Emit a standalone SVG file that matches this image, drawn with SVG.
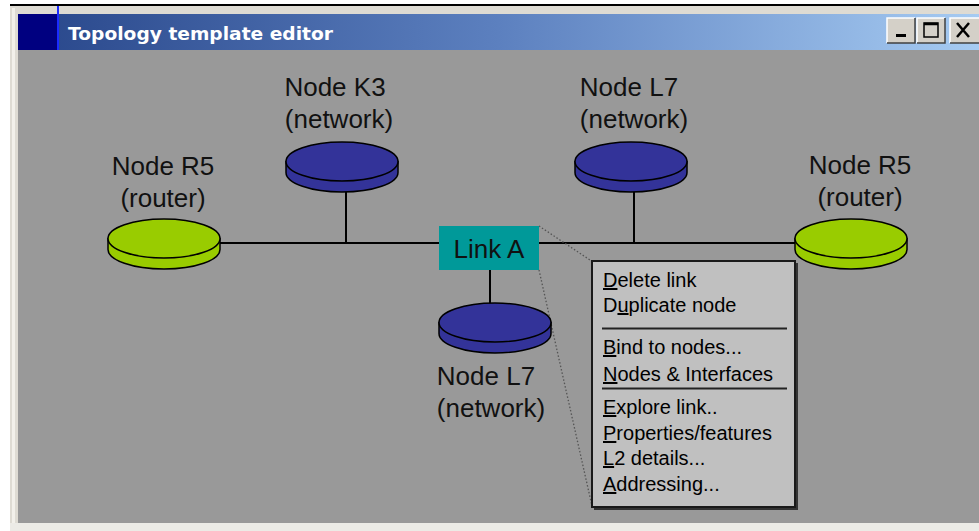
<svg xmlns="http://www.w3.org/2000/svg" width="979" height="531" viewBox="0 0 979 531">
<defs>
<linearGradient id="tb" x1="0" y1="0" x2="1" y2="0">
<stop offset="0" stop-color="#28468a"/>
<stop offset="0.5" stop-color="#5c80bf"/>
<stop offset="1" stop-color="#a6cbf2"/>
</linearGradient>
<g id="disc">
<path d="M-56,0 L-56,11 A56,19.5 0 0 0 56,11 L56,0 Z" stroke="#000" stroke-width="1.5"/>
<ellipse cx="0" cy="0" rx="56" ry="19.5" stroke="#000" stroke-width="1.5"/>
</g>
</defs>
<style>
.lbl{font-family:"Liberation Sans",Arial,sans-serif;font-size:26px;fill:#111;text-anchor:middle}
.menu{font-family:"Liberation Sans",Arial,sans-serif;font-size:20px;fill:#000}
.ln{stroke:#000;stroke-width:2;fill:none}
.dot{stroke:#555;stroke-width:1.3;stroke-dasharray:1.5 2;fill:none}
.btn{fill:#d4d0c8;stroke:#fff;stroke-width:1}
</style>
<rect width="979" height="531" fill="#ffffff"/>
<!-- window frame -->
<rect x="10" y="6" width="969" height="525" fill="#dedbd3"/>
<rect x="12" y="8" width="3" height="523" fill="#f2f0ea"/>
<line x1="10" y1="5" x2="979" y2="5" stroke="#000" stroke-width="2"/>
<!-- title bar -->
<rect x="18" y="14" width="961" height="36" fill="url(#tb)"/>
<rect x="18" y="14" width="40" height="36" fill="#000080"/>
<line x1="58" y1="6" x2="58" y2="50" stroke="#1a2cff" stroke-width="2"/>
<text x="68" y="40" font-family="DejaVu Sans,Verdana,sans-serif" font-weight="bold" font-size="18" fill="#fff" textLength="265" lengthAdjust="spacingAndGlyphs">Topology template editor</text>
<!-- buttons -->
<g id="btn-min">
<rect x="887" y="18" width="28" height="25" fill="#d4d0c8"/>
<path d="M887,43 V18 H915" stroke="#fff" stroke-width="1.5" fill="none"/>
<path d="M887,43 H915 V18" stroke="#404040" stroke-width="1.5" fill="none"/>
<rect x="896" y="34" width="10" height="3" fill="#000"/>
</g>
<g id="btn-max">
<rect x="917" y="18" width="28" height="25" fill="#d4d0c8"/>
<path d="M917,43 V18 H945" stroke="#fff" stroke-width="1.5" fill="none"/>
<path d="M917,43 H945 V18" stroke="#404040" stroke-width="1.5" fill="none"/>
<rect x="924" y="23" width="14" height="14" fill="none" stroke="#000" stroke-width="1.5"/>
<line x1="924" y1="24" x2="938" y2="24" stroke="#000" stroke-width="2.5"/>
</g>
<g id="btn-close">
<rect x="950" y="18" width="29" height="25" fill="#d4d0c8"/>
<path d="M950,43 V18 H979" stroke="#fff" stroke-width="1.5" fill="none"/>
<path d="M950,43 H979" stroke="#404040" stroke-width="1.5" fill="none"/>
<path d="M957,23 L969,37 M969,23 L957,37" stroke="#000" stroke-width="2.5"/>
</g>
<!-- canvas -->
<rect x="18" y="50" width="961" height="473" fill="#999999"/>
<rect x="10" y="523" width="969" height="8" fill="#ecebe6"/>

<!-- connectors -->
<g id="connectors">
<line class="ln" x1="218" y1="243" x2="798" y2="243"/>
<line class="ln" x1="346" y1="192" x2="346" y2="243"/>
<line class="ln" x1="634" y1="192" x2="634" y2="243"/>
<line class="ln" x1="490" y1="270" x2="490" y2="304"/>
<line class="dot" x1="539" y1="226" x2="593" y2="262"/>
<line class="dot" x1="539" y1="270" x2="592" y2="506"/>
</g>

<g id="node-r5-left">
<use href="#disc" x="164" y="238.5" fill="#99cc00"/>
<text class="lbl" x="163" y="175">Node R5</text>
<text class="lbl" x="163" y="207">(router)</text>
</g>
<g id="node-r5-right">
<use href="#disc" x="851" y="238.5" fill="#99cc00"/>
<text class="lbl" x="860" y="174">Node R5</text>
<text class="lbl" x="860" y="206">(router)</text>
</g>
<g id="node-k3">
<use href="#disc" x="342" y="161.5" fill="#333399"/>
<text class="lbl" x="335" y="96">Node K3</text>
<text class="lbl" x="339" y="128">(network)</text>
</g>
<g id="node-l7-top">
<use href="#disc" x="631" y="161.5" fill="#333399"/>
<text class="lbl" x="629" y="96">Node L7</text>
<text class="lbl" x="634" y="128">(network)</text>
</g>
<g id="node-l7-bottom">
<use href="#disc" x="495" y="322.5" fill="#333399"/>
<text class="lbl" x="486" y="385">Node L7</text>
<text class="lbl" x="491" y="417">(network)</text>
</g>
<g id="link-a">
<rect x="439" y="226" width="100" height="44" fill="#009999"/>
<text class="lbl" x="489" y="258">Link A</text>
</g>

<g id="context-menu">
<rect x="594" y="263" width="204" height="247" fill="#333"/>
<rect x="592" y="261" width="203" height="246" fill="#c0c0c0" stroke="#1a1a1a" stroke-width="2"/>
<text class="menu" x="603" y="287"><tspan text-decoration="underline">D</tspan>elete link</text>
<text class="menu" x="603" y="312">D<tspan text-decoration="underline">u</tspan>plicate node</text>
<line x1="602" y1="328.5" x2="787" y2="328.5" stroke="#222" stroke-width="2"/>
<text class="menu" x="603" y="354"><tspan text-decoration="underline">B</tspan>ind to nodes...</text>
<text class="menu" x="603" y="381"><tspan text-decoration="underline">N</tspan>odes &amp; Interfaces</text>
<line x1="602" y1="388.5" x2="787" y2="388.5" stroke="#222" stroke-width="2"/>
<text class="menu" x="603" y="414"><tspan text-decoration="underline">E</tspan>xplore link..</text>
<text class="menu" x="603" y="440"><tspan text-decoration="underline">P</tspan>roperties/features</text>
<text class="menu" x="603" y="465"><tspan text-decoration="underline">L</tspan>2 details...</text>
<text class="menu" x="603" y="491"><tspan text-decoration="underline">A</tspan>ddressing...</text>
</g>
</svg>
